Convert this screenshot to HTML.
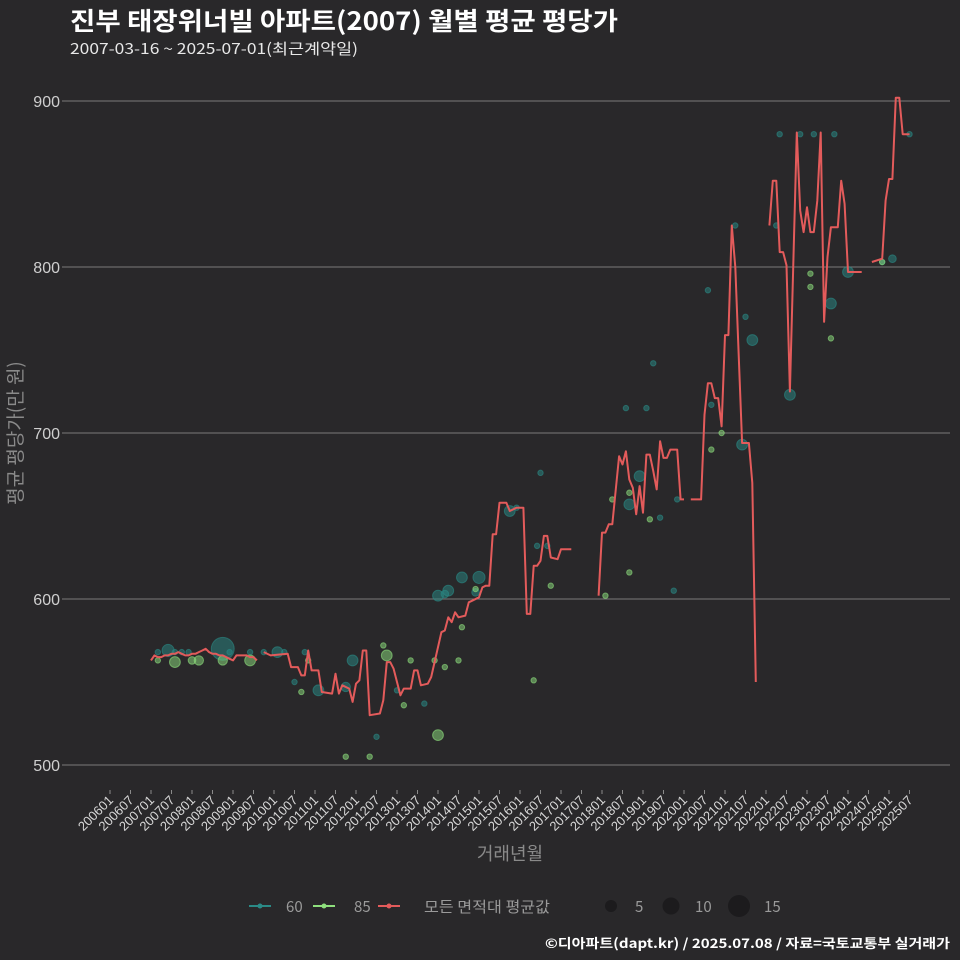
<!DOCTYPE html>
<html><head><meta charset="utf-8">
<style>
html,body{margin:0;padding:0;background:#29282a;}
svg{display:block;font-family:"Liberation Sans","Noto Sans CJK KR",sans-serif;}
</style></head>
<body>
<svg id="chart" width="960" height="960" viewBox="0 0 960 960">
<rect width="960" height="960" fill="#29282a"/>
<text x="70" y="30" fill="#ffffff" font-size="25" font-weight="bold" font-family="Noto Sans CJK KR, sans-serif" textLength="548" lengthAdjust="spacingAndGlyphs">진부 태장위너빌 아파트(2007) 월별 평균 평당가</text>
<text x="70" y="54" fill="#e8e8e8" font-size="15" font-family="Noto Sans CJK KR, sans-serif" textLength="288" lengthAdjust="spacingAndGlyphs">2007-03-16 ~ 2025-07-01(최근계약일)</text>
<g id="grid"></g>
<g id="yaxis"></g>
<g id="xaxis"></g>
<g id="bubbles"></g>
<g id="line"></g>
<text x="0" y="0" transform="translate(22,433) rotate(-90)" text-anchor="middle" fill="#8a8a8a" font-size="19" font-family="Noto Sans CJK KR, sans-serif">평균 평당가(만 원)</text>
<text x="510" y="860" text-anchor="middle" fill="#8a8a8a" font-size="18" font-family="Noto Sans CJK KR, sans-serif">거래년월</text>
<g font-family="Noto Sans CJK KR, sans-serif" font-size="15" fill="#9a9a9a">
 <g><line x1="249" y1="906" x2="271" y2="906" stroke="#2a8a86" stroke-width="2"/><circle cx="260" cy="906" r="2.5" fill="#2a8a86"/><text x="286" y="912">60</text></g>
 <g><line x1="313" y1="906" x2="335" y2="906" stroke="#8ee07d" stroke-width="2"/><circle cx="324" cy="906" r="2.5" fill="#8ee07d"/><text x="354" y="912">85</text></g>
 <g><line x1="378" y1="906" x2="400" y2="906" stroke="#e35b5b" stroke-width="2"/><circle cx="389" cy="906" r="2.5" fill="#e35b5b"/><text x="424" y="912" textLength="126" lengthAdjust="spacingAndGlyphs">모든 면적대 평균값</text></g>
 <g><circle cx="611" cy="906" r="6" fill="#1c1b1d"/><text x="635" y="912">5</text></g>
 <g><circle cx="671" cy="906" r="8.5" fill="#1c1b1d"/><text x="695" y="912">10</text></g>
 <g><circle cx="739" cy="906" r="11" fill="#1c1b1d"/><text x="764" y="912">15</text></g>
</g>
<text x="950" y="948" text-anchor="end" fill="#ffffff" font-size="13" font-weight="bold" font-family="Noto Sans CJK KR, sans-serif" textLength="405" lengthAdjust="spacingAndGlyphs">©디아파트(dapt.kr) / 2025.07.08 / 자료=국토교통부 실거래가</text>
</svg>
<script>
// month index = months since 2006-01
const yTicks = [500, 600, 700, 800, 900];
const xTickLabels = ["200601","200607","200701","200707","200801","200807","200901","200907","201001","201007","201101","201107","201201","201207","201301","201307","201401","201407","201501","201507","201601","201607","201701","201707","201801","201807","201901","201907","202001","202007","202101","202107","202201","202207","202301","202307","202401","202407","202501","202507"];
const lineMonths = [12,13,14,15,16,17,18,19,20,21,22,23,24,25,26,27,28,29,30,31,32,33,34,35,36,37,38,39,40,41,42,43,44,
 45,47,52,53,55,56,57,58,59,61,62,65,66,67,68,70,71,72,73,74,75,76,79,80,81,82,83,85,86,88,89,90,91,93,94,97,98,99,100,101,102,104,105,106,108,109,110,111,112,113,114,116,117,119,121,122,123,124,125,126,127,128,129,131,132,135,136,
 143,144,145,146,147,149,150,151,152,153,154,155,156,157,158,159,160,161,162,163,164,166,167,168,169,
 170,173,174,175,176,177,178,179,180,181,182,183,185,187,188,189,190,
 193,194,195,196,197,198,199,201,202,203,204,205,206,207,208,209,210,211,213,214,215,216,220,221,
 223,226,227,228,229,230,231,232,234];
const lineValues = [563,566,565,565,566,566,567,567,568,567,566,566,567,567,568,569,570,568,567,567,566,566,565,564,563,566,566,566,566,565,565,563,null,
 568,566,567,559,559,554,554,569,557,557,544,543,555,543,548,546,538,549,551,569,569,530,531,539,562,562,558,542,546,546,557,557,548,549,553,580,581,589,586,592,589,590,598,599,601,607,608,608,639,639,658,658,653,655,655,591,591,620,620,623,638,638,625,624,630,630,null,
 602,640,640,645,645,686,681,689,672,667,651,668,652,687,687,677,666,695,685,685,690,690,660,660,null,
 660,660,711,730,730,721,721,704,759,759,825,800,694,694,670,550,null,
 825,852,852,809,809,801,725,881,834,821,836,821,821,840,881,767,806,824,824,852,838,797,797,null,
 803,805,840,853,853,902,902,880,880];
const s60Months = [14,17,19,21,23,33,35,41,45,49,51,54,57,61,69,71,78,84,92,96,98,99,103,107,108,117,119,125,128,126,
 151,152,155,157,159,161,165,166,175,176,183,185,186,188,196,195,199,202,206,212,211,216,226,229,234];
const s60Values = [568,569,568,568,568,570,568,568,568,568,568,550,568,545,547,563,517,545,537,602,603,605,613,604,613,653,655,632,632,676,
 715,657,674,715,742,649,605,660,786,717,825,693,770,756,880,825,723,880,880,880,778,797,803,805,880];
const s60Sizes = [1,5,1,1,1,18,1,1,1,4,1,1,1,4,3,4,1,1,1,4,2,4,4,2,5,4,1,1,1,1,
 1,4,4,1,1,1,1,1,1,1,1,4,1,4,1,1,4,1,1,1,4,4,1,2,1];
const s85Months = [14,19,24,26,33,41,56,58,69,76,80,81,86,88,95,96,98,102,103,107,124,129,
 145,147,152,152,158,176,179,205,205,211,226];
const s85Values = [563,562,563,563,563,563,544,563,505,505,572,566,536,563,563,518,559,563,583,606,551,608,
 602,660,664,616,648,690,700,796,788,757,803];
const s85Sizes = [1,4,2,3,3,4,1,1,1,1,1,4,1,1,1,4,1,1,1,1,1,1,
 1,1,1,1,1,1,1,1,1,1,1];

const NS = "http://www.w3.org/2000/svg";
const plotL = 66, plotR = 950;
function xScale(m){ return 110 + m * (20.5 / 6); }
function yScale(v){ return 765 - (v - 500) * 1.66; }
function rScale(n){ return 2.7 * Math.sqrt(n); }
function mk(tag, attrs, parent){ const e = document.createElementNS(NS, tag); for (const k in attrs) e.setAttribute(k, attrs[k]); parent.appendChild(e); return e; }

const grid = document.getElementById('grid'), yax = document.getElementById('yaxis'), xax = document.getElementById('xaxis');
yTicks.forEach(v => {
  const y = yScale(v);
  const gl = mk('line', {x1: plotL, x2: plotR, y1: y, y2: y, stroke: '#7a7a7a', 'stroke-width': 1}, grid);
  
  
  const tk = mk('line', {x1: plotL - 4, x2: plotL, y1: y, y2: y, stroke: '#7a7a7a'}, yax);
  
  
  const t = mk('text', {x: plotL - 6, y: y + 6, 'text-anchor': 'end', fill: '#cfcfcf', 'font-size': 16}, yax);
  t.textContent = v;
  
  
});
xTickLabels.forEach((lab, i) => {
  const x = xScale(i * 6);
  const tk = mk('line', {x1: x, x2: x, y1: 790, y2: 794, stroke: '#8a8a8a'}, xax);
  
  
  const t = mk('text', {x: 0, y: 0, transform: 'translate(' + (x + 4) + ',801) rotate(-45)', 'text-anchor': 'end', fill: '#d8d8d8', 'font-size': 13}, xax);
  t.textContent = lab;
  
  
});

const bub = document.getElementById('bubbles');
function drawSeries(ms, vs, ss, color, name){
  ms.forEach((m, i) => {
    const c = mk('circle', {cx: xScale(m), cy: yScale(vs[i]), r: rScale(ss[i]), fill: color, 'fill-opacity': 0.5, stroke: color, 'stroke-opacity': 0.6}, bub);
    
    
  });
}
drawSeries(s60Months, s60Values, s60Sizes, '#2a8a86', 'series-60');
drawSeries(s85Months, s85Values, s85Sizes, '#8ee07d', 'series-85');

const lg = document.getElementById('line');
let d = '', pen = false;
lineMonths.forEach((m, i) => {
  const v = lineValues[i];
  if (v === null) { pen = false; return; }
  d += (pen ? 'L' : 'M') + xScale(m).toFixed(1) + ',' + yScale(v).toFixed(1);
  pen = true;
});
const p = mk('path', {d: d, fill: 'none', stroke: '#e35b5b', 'stroke-width': 2, 'stroke-linejoin': 'round'}, lg);


</script>
</body></html>
